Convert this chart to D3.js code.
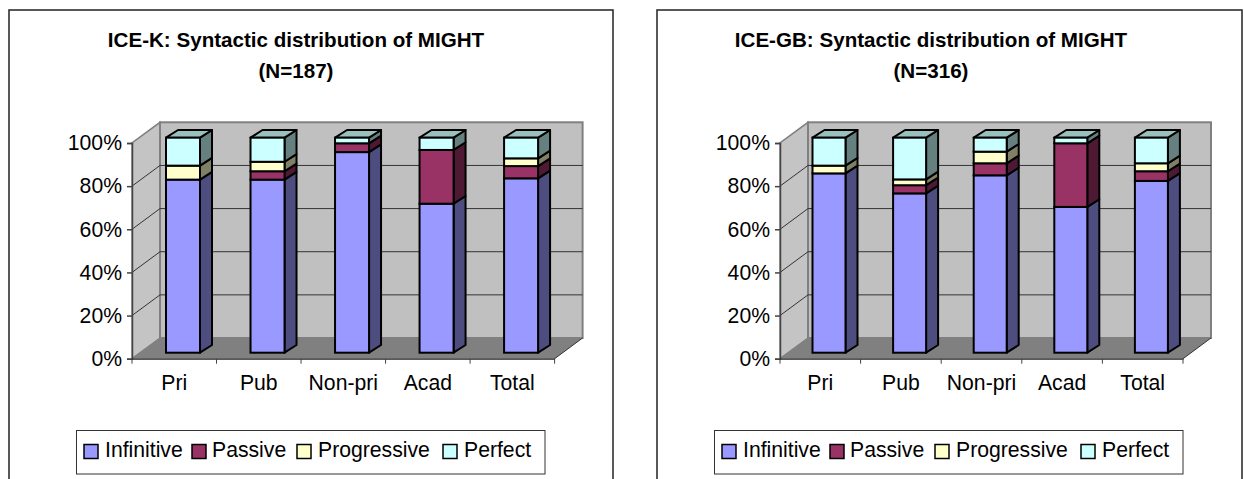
<!DOCTYPE html>
<html>
<head>
<meta charset="utf-8">
<script src="https://cdnjs.cloudflare.com/ajax/libs/d3/7.8.5/d3.min.js"></script>
<style>
html,body{margin:0;padding:0;background:#fff;overflow:hidden;}
text{font-family:"Liberation Sans",Arial,sans-serif;fill:#000;}
</style>
</head>
<body>
<div id="container"></div>
<script>
const canvasWidth = 1244;
const canvasHeight = 479;

let categories = ['Pri','Pub','Non-pri','Acad','Total'];
let seriesNames = ['Infinitive','Passive','Progressive','Perfect'];
let yTicks = [0,20,40,60,80,100];

// segment sizes in percent
let kInfinitive = [80.5,80.5,93.3,69.3,81.1];
let kPassive = [0,3.9,4.1,25,5.7];
let kProgressive = [6.5,4.4,0,0,3.6];
let kPerfect = [13,11.2,2.6,5.7,9.6];

let gbInfinitive = [83.4,74.1,82.5,67.8,79.9];
let gbPassive = [0,3.8,5.6,29.6,4.5];
let gbProgressive = [3.6,2.7,5.4,0,3.7];
let gbPerfect = [13,19.4,6.5,2.6,11.9];

//front, side and top colors of each series
let frontColor = ['#9999ff','#993366','#ffffcc','#ccffff'];
let sideColor = ['#4d4d80','#4d1933','#808066','#668080'];
let topColor = ['#4d4d80','#4d1933','#808066','#99c0bc'];

const labelSize = 21.2;
const barStroke = 2;

let viz = d3.select('#container')
.append('svg')
.attr('width',canvasWidth)
.attr('height',canvasHeight)
.style('display','block');

function buildRows(seriesList){
  return categories.map(function(c,i){
    let row = {category:c};
    seriesNames.forEach(function(s,j){ row[s] = seriesList[j][i]; });
    return row;
  });
}

function drawChart(o){
  let g = viz.append('g');

  //outer frame, runs off the bottom of the page
  g.append('rect')
  .attr('x',o.frameLeft).attr('y',10)
  .attr('width',o.frameRight-o.frameLeft).attr('height',canvasHeight+20)
  .attr('fill','#fff').attr('stroke','#222').attr('stroke-width',1.5);

  let title = g.append('text')
  .attr('text-anchor','middle')
  .attr('font-weight','bold')
  .attr('font-size',20.6);
  title.append('tspan').attr('x',o.titleX).attr('y',47).text(o.title);
  title.append('tspan').attr('x',o.titleX).attr('y',78).text(o.subtitle);

  let x0 = o.axisLeft, x1 = o.axisRight;
  let yFloor = 358.7, yTop = 143;
  let wallDx = 28, wallDy = -20.7;

  let xScale = d3.scaleBand().domain(categories).range([x0,x1]);
  let yAxisScale = d3.scaleLinear().domain([0,100]).range([yFloor,yTop]);
  let yBarScale = d3.scaleLinear().domain([0,100]).range([352.7,137.7]);

  let line = d3.line();

  //left wall
  g.append('path')
  .attr('d',line([[x0,yFloor],[x0+wallDx,yFloor+wallDy],[x0+wallDx,yTop+wallDy],[x0,yTop]])+'Z')
  .attr('fill','#c4c4c4').attr('stroke','#808080').attr('stroke-width',1.5);
  //back wall
  g.append('rect')
  .attr('x',x0+wallDx).attr('y',yTop+wallDy)
  .attr('width',x1-x0).attr('height',yFloor-yTop)
  .attr('fill','#c0c0c0').attr('stroke','#808080').attr('stroke-width',2);

  //gridlines on both walls
  let grid = g.append('g');
  yTicks.slice(1,5).forEach(function(t){
    let y = yAxisScale(t);
    grid.append('path')
    .attr('d',line([[x0,y],[x0+wallDx,y+wallDy],[x1+wallDx,y+wallDy]]))
    .attr('fill','none').attr('stroke','#333').attr('stroke-width',1);
  });

  //floor
  g.append('path')
  .attr('d',line([[x0,yFloor],[x0+wallDx,yFloor+wallDy],[x1+wallDx,yFloor+wallDy],[x1,yFloor]])+'Z')
  .attr('fill','#808080');
  g.append('path')
  .attr('d',line([[x1,yFloor],[x1+wallDx,yFloor+wallDy]]))
  .attr('stroke','#333').attr('stroke-width',1);

  //stacked bars
  let stack = d3.stack().keys(seriesNames);
  let layers = stack(buildRows(o.series));
  let barW = o.barW, depthX = 12, depthY = -7.7;
  let barOffset = o.barOffset;

  layers.forEach(function(layer,li){
    layer.forEach(function(seg){
      if(seg[1]-seg[0] <= 0) return;
      let left = xScale(seg.data.category)+barOffset;
      let right = left+barW;
      let yb = yBarScale(seg[0]);
      let yt = yBarScale(seg[1]);
      g.append('path')
      .attr('d',line([[right,yb],[right+depthX,yb+depthY],[right+depthX,yt+depthY],[right,yt]])+'Z')
      .attr('fill',sideColor[li]).attr('stroke','#000').attr('stroke-width',barStroke).attr('stroke-linejoin','round');
      if(seg[1] >= 99.9){
        g.append('path')
        .attr('d',line([[left,yt],[left+depthX,yt+depthY],[right+depthX,yt+depthY],[right,yt]])+'Z')
        .attr('fill',topColor[li]).attr('stroke','#000').attr('stroke-width',barStroke).attr('stroke-linejoin','round');
      }
      g.append('rect')
      .attr('x',left).attr('y',yt)
      .attr('width',barW).attr('height',yb-yt)
      .attr('fill',frontColor[li]).attr('stroke','#000').attr('stroke-width',barStroke);
    });
  });

  //axes
  let yAxis = d3.axisLeft(yAxisScale)
  .tickValues(yTicks)
  .tickSize(5)
  .tickPadding(5)
  .tickFormat(function(d){ return d+'%'; });
  let yG = g.append('g').attr('transform','translate('+x0+',0)').call(yAxis);
  yG.selectAll('text').attr('font-size',labelSize).attr('fill','#000');
  yG.selectAll('line,path').attr('stroke','#444').attr('stroke-width',1.5);

  let xAxis = d3.axisBottom(xScale).tickSize(0).tickPadding(16);
  let xG = g.append('g').attr('transform','translate(0,'+yFloor+')').call(xAxis);
  xG.select('path').attr('stroke','#222').attr('stroke-width',1.2);
  xG.selectAll('text').attr('font-size',labelSize).attr('fill','#000');
  //ticks sit between the categories, not under them
  categories.concat(['end']).forEach(function(c,i){
    let tx = i < categories.length ? xScale(c) : x1;
    g.append('line')
    .attr('x1',tx).attr('x2',tx).attr('y1',yFloor).attr('y2',yFloor+5)
    .attr('stroke','#444').attr('stroke-width',1);
  });

  //legend
  let legend = g.append('g').attr('transform','translate('+o.legendX+',0)');
  legend.append('rect')
  .attr('x',0).attr('y',430.5).attr('width',468.5).attr('height',43.5)
  .attr('fill','#fff').attr('stroke','#333').attr('stroke-width',1);
  let swatchX = [7.5,115.5,220.5,366.5];
  let labelX = [28.5,135.5,241.5,387.5];
  seriesNames.forEach(function(s,i){
    legend.append('rect')
    .attr('x',swatchX[i]).attr('y',444.5).attr('width',14).attr('height',14)
    .attr('fill',frontColor[i]).attr('stroke','#000').attr('stroke-width',1.5);
    legend.append('text')
    .attr('x',labelX[i]).attr('y',456.5)
    .attr('font-size',labelSize)
    .text(s);
  });
}

drawChart({
  title:'ICE-K: Syntactic distribution of MIGHT',
  subtitle:'(N=187)',
  frameLeft:9, frameRight:613, titleX:296,
  axisLeft:132, axisRight:554.6, barOffset:34, barW:34, legendX:76.5,
  series:[kInfinitive,kPassive,kProgressive,kPerfect]
});

drawChart({
  title:'ICE-GB: Syntactic distribution of MIGHT',
  subtitle:'(N=316)',
  frameLeft:657, frameRight:1242, titleX:931,
  axisLeft:780, axisRight:1183, barOffset:32.5, barW:33, legendX:714.5,
  series:[gbInfinitive,gbPassive,gbProgressive,gbPerfect]
});
</script>
</body>
</html>
